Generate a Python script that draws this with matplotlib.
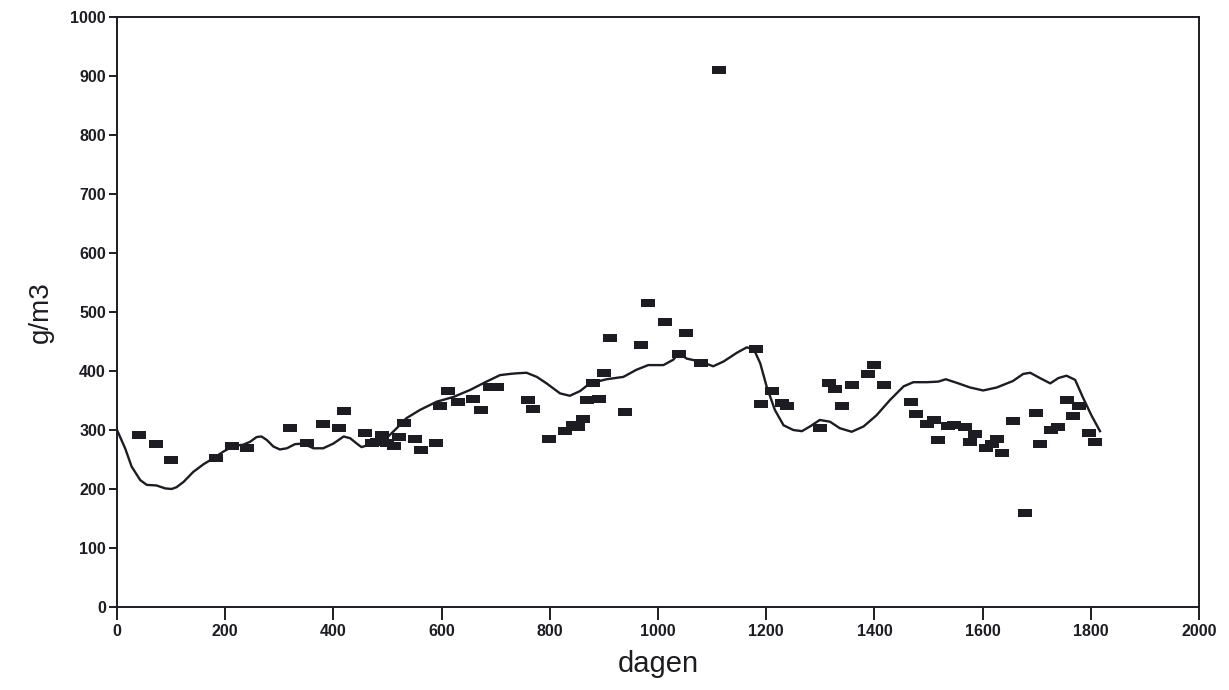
import matplotlib
matplotlib.use('Agg')
from matplotlib import pyplot as plt

plt.rcParams['font.family'] = ['Liberation Sans', 'DejaVu Sans']

# measured points (dagen, g/m3)
pt_x = [41, 72, 100, 183, 213, 240, 320, 351, 381, 410, 420, 458, 471, 481, 490,
        499, 512, 521, 530, 551, 562, 590, 597, 612, 630, 658, 673, 689, 702,
        760, 769, 799, 828, 843, 852, 861, 869, 880, 891, 900, 911, 939, 969,
        981, 1013, 1039, 1052, 1079, 1113, 1181, 1190, 1211, 1229, 1238, 1300,
        1316, 1327, 1340, 1359, 1388, 1399, 1418, 1468, 1477, 1497, 1510, 1518,
        1536, 1547, 1567, 1577, 1586, 1606, 1617, 1627, 1636, 1656, 1678, 1699,
        1706, 1726, 1739, 1756, 1767, 1778, 1797, 1808]
pt_y = [292, 276, 249, 253, 273, 269, 303, 278, 310, 303, 332, 295, 278, 280, 292,
        278, 273, 288, 312, 285, 266, 278, 341, 366, 347, 353, 334, 373, 373,
        351, 336, 285, 298, 308, 305, 319, 351, 380, 353, 397, 456, 330, 444,
        515, 483, 429, 465, 414, 910, 437, 344, 366, 346, 341, 304,
        380, 369, 341, 376, 395, 410, 376, 347, 327, 310, 317, 283,
        307, 308, 305, 280, 293, 269, 276, 285, 261, 315, 159, 329,
        276, 300, 305, 351, 324, 341, 295, 280]

# smoothed curve, traced
ln_x = [0, 15, 27, 43, 55, 73, 89, 101, 110, 123, 141, 160, 178, 196, 215, 233,
        246, 258, 267, 277, 289, 301, 314, 329, 344, 363, 381, 400, 419, 431,
        446, 452, 474, 498, 517, 535, 560, 591, 622, 653, 683, 708, 726, 738,
        757, 776, 794, 819, 837, 856, 874, 905, 936, 960, 982, 1010, 1028, 1039,
        1053, 1078, 1102, 1121, 1146, 1164, 1177, 1189, 1201, 1216, 1232, 1250,
        1266, 1281, 1299, 1318, 1336, 1358, 1380, 1404, 1429, 1454, 1472, 1497,
        1518, 1532, 1552, 1577, 1601, 1626, 1656, 1675, 1688, 1706, 1725, 1740,
        1755, 1771, 1785, 1801, 1817]
ln_y = [300, 269, 238, 215, 207, 206, 201, 200, 203, 212, 229, 242, 252, 263, 273, 275,
        280, 288, 289, 283, 272, 267, 269, 276, 277, 269, 269, 277, 289, 286,
        275, 271, 277, 286, 303, 320, 334, 348, 356, 368, 382, 393, 395, 396,
        397, 390, 379, 362, 358, 366, 379, 386, 390, 402, 410, 410, 419, 430,
        421, 416, 408, 416, 431, 440, 437, 413, 373, 334, 308, 300,
        298, 306, 317, 314, 303, 297, 306, 325, 351, 374, 381, 381,
        382, 386, 380, 372, 367, 372, 383, 395, 397, 388, 379, 388,
        392, 385, 356, 325, 298]

rect = [(-1, -0.55), (1, -0.55), (1, 0.55), (-1, 0.55), (-1, -0.55)]

fig = plt.figure(figsize=(12.29, 6.9), dpi=100)
ax = fig.add_axes([0.0952, 0.1203, 0.8804, 0.8551])

ax.plot(ln_x, ln_y, color='#1c1c22', lw=1.7)
ax.plot(pt_x, pt_y, ls='none', marker=rect, markersize=9.5,
        color='#1c1c22', markeredgewidth=0)

ax.set_xlim(0, 2000)
ax.set_ylim(0, 1000)
ax.set_xticks(range(0, 2001, 200))
ax.set_yticks(range(0, 1001, 100))
ax.tick_params(direction='out', width=1.4, labelsize=11.5, colors='#1c1c22')
ax.tick_params(axis='x', length=9, pad=3)
ax.tick_params(axis='y', length=6, pad=2)
for lab in ax.get_xticklabels() + ax.get_yticklabels():
    lab.set_fontweight('bold')
for s in ax.spines.values():
    s.set_linewidth(1.4)
    s.set_color('#1c1c22')

ax.set_xlabel('dagen', fontsize=21, labelpad=8, color='#1c1c22')
ax.set_ylabel('g/m3', fontsize=20, labelpad=12, color='#1c1c22')

fig.savefig('out.png', dpi=100)
